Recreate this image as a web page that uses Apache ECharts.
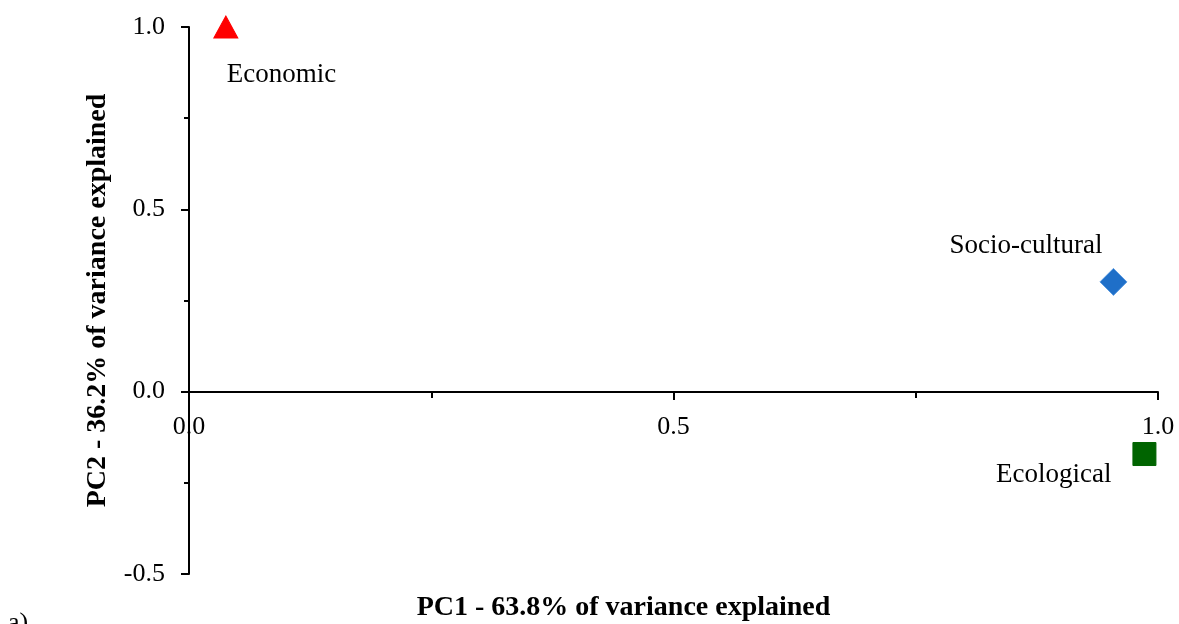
<!DOCTYPE html>
<html>
<head>
<meta charset="utf-8">
<script src="https://cdn.jsdelivr.net/npm/echarts@6/dist/echarts.min.js"></script>
<style>html,body{margin:0;padding:0;background:#fff}#c{width:1179px;height:624px}</style>
</head>
<body>
<div id="c"></div>
<script>
var names = ['Economic', 'Socio-cultural', 'Ecological'];
var pc1 = [0.038, 0.954, 0.986];
var pc2 = [1.0, 0.301, -0.171];
var xTickLabels = ['0.0', '0.5', '1.0'];
var yTickLabels = ['-0.5', '0.0', '0.5', '1.0'];

var FONT = "'Liberation Serif', 'Times New Roman', serif";
var styles = [
  {symbol: 'triangle', size: [24, 22], color: '#ff0000', border: '#ff0000',
   label: {offset: [1, 48], align: 'left'}},
  {symbol: 'diamond', size: [27, 27], color: '#1f6fc8', border: '#5a9ae0',
   label: {offset: [-11, -36], align: 'right'}},
  {symbol: 'rect', size: [23, 23], color: '#006400', border: '#006400',
   label: {offset: [-33, 21], align: 'right'}}
];

var series = names.map(function (n, i) {
  var s = styles[i];
  return {
    type: 'scatter',
    name: n,
    data: [[pc1[i], pc2[i]]],
    symbol: s.symbol,
    symbolSize: s.size,
    itemStyle: {color: s.color, borderColor: s.border, borderWidth: 1, opacity: 1},
    label: {
      show: true,
      formatter: n,
      position: 'inside',
      offset: s.label.offset,
      align: s.label.align,
      verticalAlign: 'middle',
      color: '#000',
      fontFamily: FONT,
      fontSize: 27
    },
    emphasis: {disabled: true},
    z: 5
  };
});

function fmt(list) {
  return function (v) {
    var t = (Math.round(v * 10) / 10).toFixed(1);
    return list.indexOf(t) >= 0 ? t : '';
  };
}

var chart = echarts.init(document.getElementById('c'), null, {renderer: 'canvas'});
chart.setOption({
  animation: false,
  backgroundColor: '#ffffff',
  grid: {left: 189, right: 21, top: 27, bottom: 50, containLabel: false, outerBoundsMode: 'none'},
  xAxis: {
    type: 'value',
    min: 0, max: 1, interval: 0.5,
    position: 'bottom',
    offset: -182,
    name: 'PC1 - 63.8% of variance explained',
    nameLocation: 'middle',
    nameGap: 202,
    nameTextStyle: {fontFamily: FONT, fontSize: 28, fontWeight: 'bold', color: '#000', padding: [0, 100, 0, 0]},
    axisLine: {onZero: false, lineStyle: {color: '#000', width: 2}},
    axisTick: {show: true, length: 8, lineStyle: {color: '#000', width: 2}},
    minorTick: {show: true, splitNumber: 2, length: 6, lineStyle: {color: '#000', width: 2}},
    splitLine: {show: false},
    axisLabel: {formatter: fmt(xTickLabels), fontFamily: FONT, fontSize: 26, color: '#000', margin: 22}
  },
  yAxis: {
    type: 'value',
    min: -0.5, max: 1, interval: 0.5,
    name: 'PC2 - 36.2% of variance explained',
    nameLocation: 'middle',
    nameGap: 77,
    nameTextStyle: {fontFamily: FONT, fontSize: 28, fontWeight: 'bold', color: '#000'},
    axisLine: {onZero: false, lineStyle: {color: '#000', width: 2}},
    axisTick: {show: true, length: 8, lineStyle: {color: '#000', width: 2}},
    minorTick: {show: true, splitNumber: 2, length: 5, lineStyle: {color: '#000', width: 2}},
    splitLine: {show: false},
    axisLabel: {formatter: fmt(yTickLabels), fontFamily: FONT, fontSize: 26, color: '#000', margin: 24}
  },
  graphic: [{
    type: 'text', left: 8, top: 610,
    style: {text: 'a)', fontFamily: FONT, fontSize: 26, fill: '#000'}
  }],
  series: series
});
</script>
</body>
</html>
